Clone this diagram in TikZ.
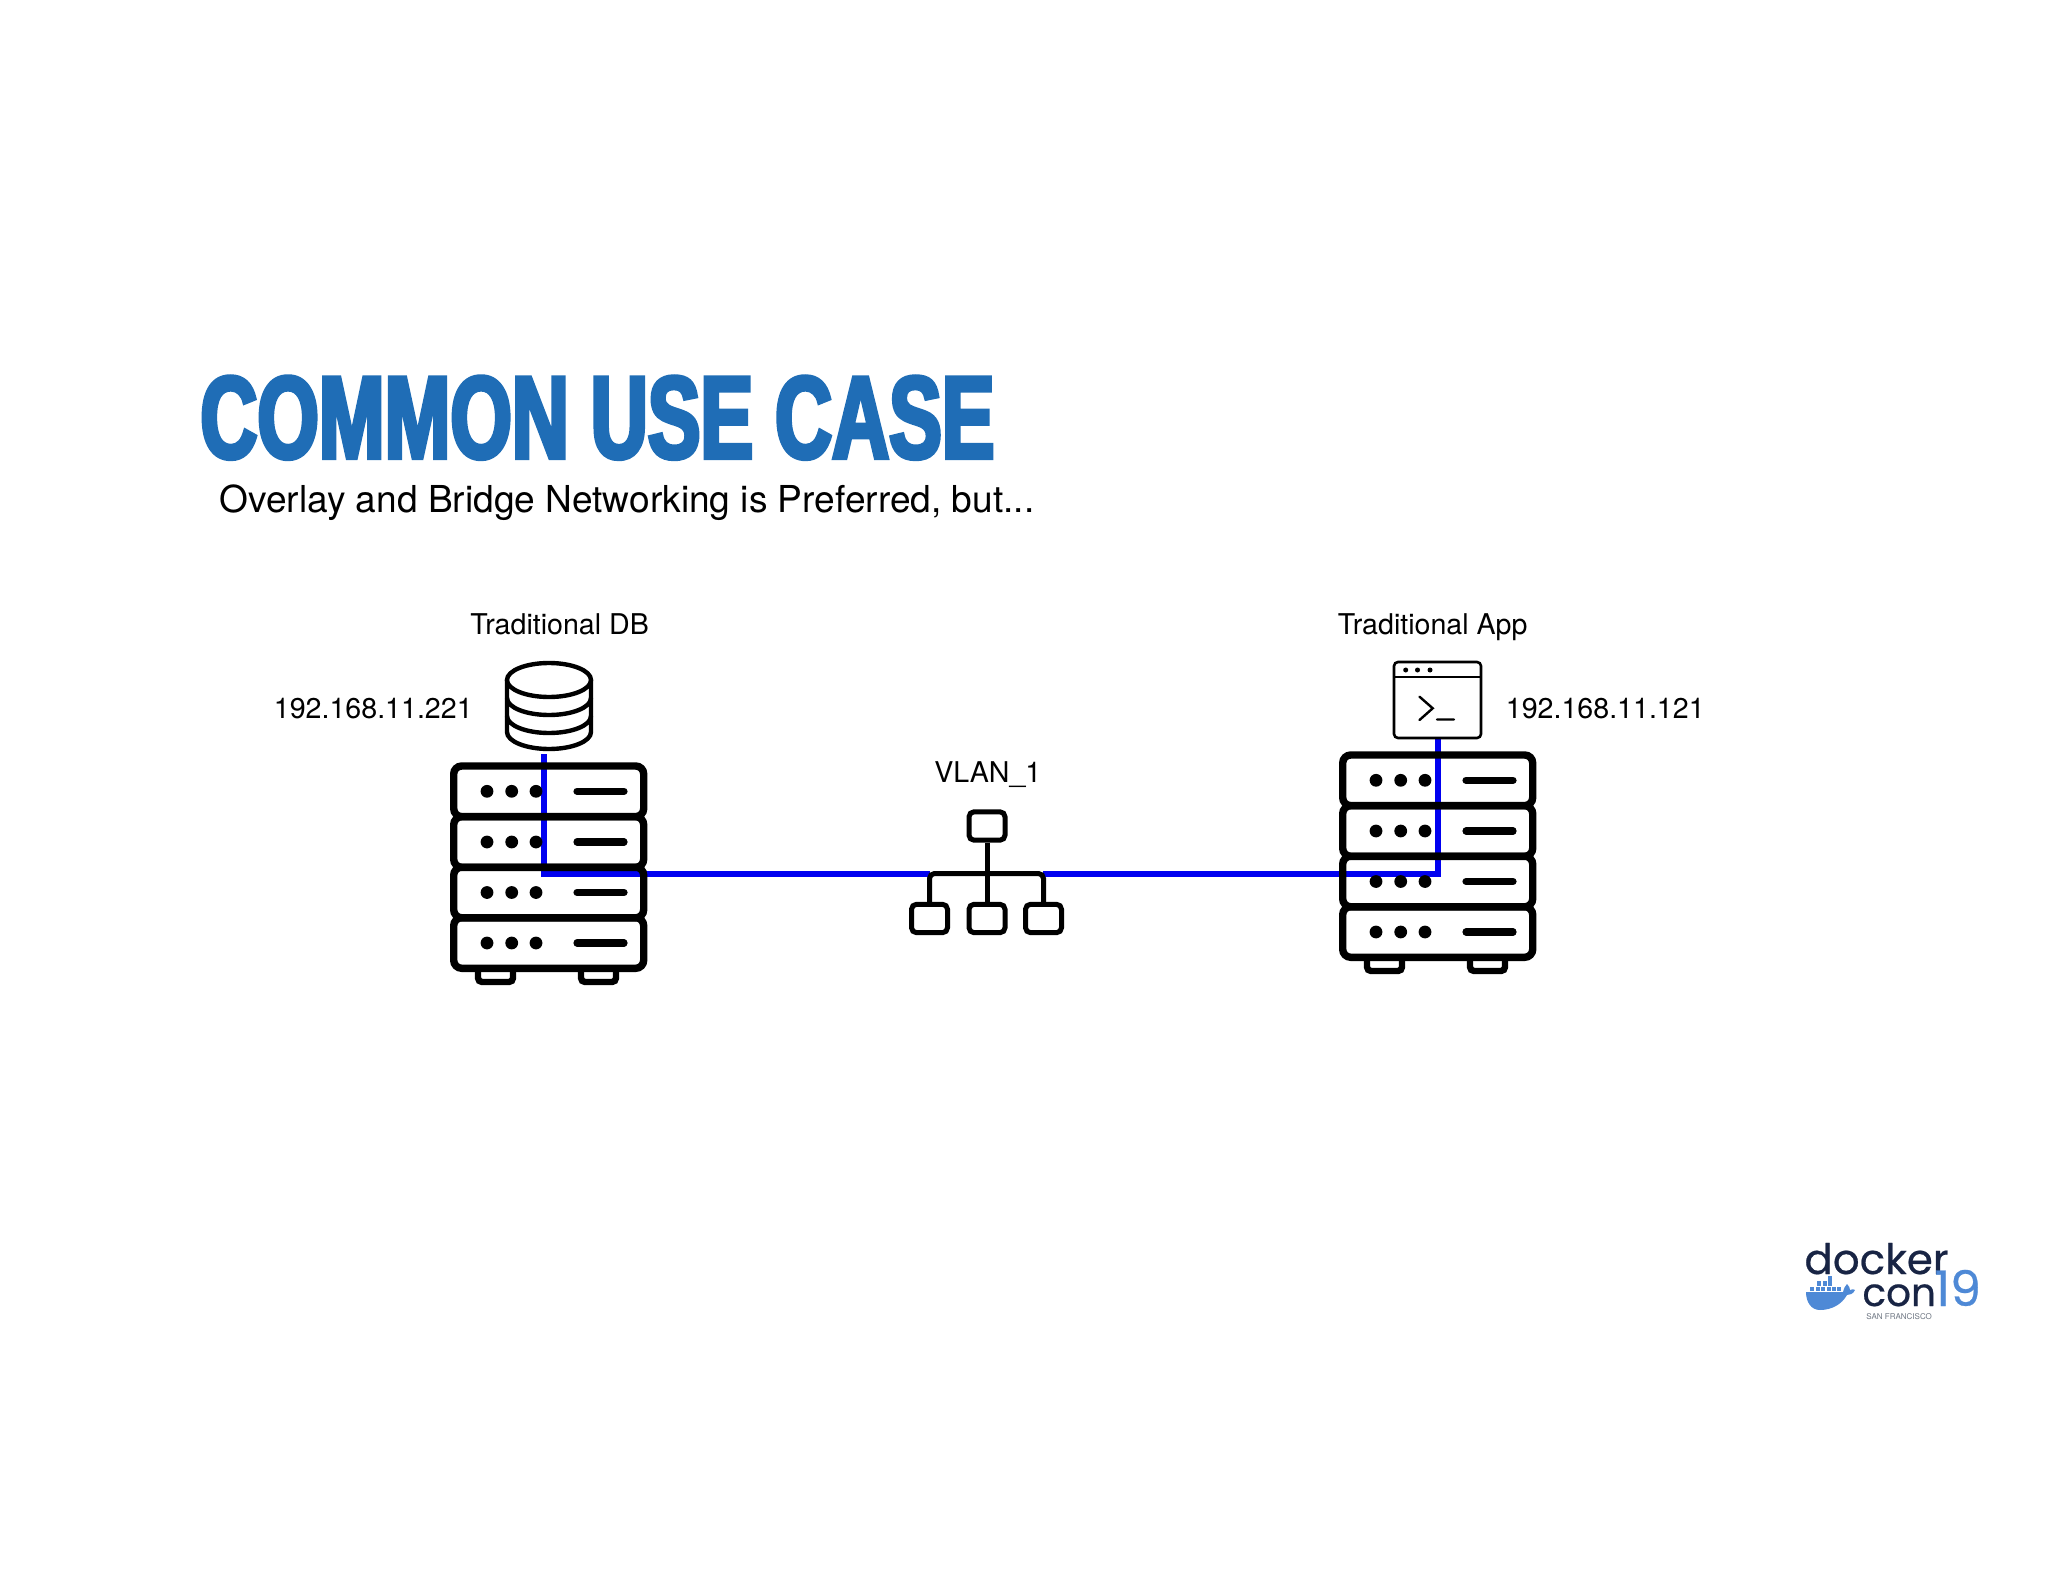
\documentclass[tikz,border=0pt]{standalone}
\usepackage{fontspec}
\setmainfont{TeX Gyre Heros}
\newfontfamily\titlefont[FakeBold=3.5,FakeStretch=0.675]{Liberation Sans Bold}
\newfontfamily\logofont[FakeBold=0.5]{Poppins}
\usetikzlibrary{positioning,calc}
\definecolor{ink}{RGB}{0,0,0}
\definecolor{vlanblue}{RGB}{0,0,240}
\definecolor{titleblue}{RGB}{31,109,182}
\definecolor{logonavy}{RGB}{24,36,68}
\definecolor{logoblue}{RGB}{78,137,214}
\definecolor{logogray}{RGB}{110,118,130}
\tikzset{
  rack/.style={draw=ink,line width=3.7pt,rounded corners=4pt,
    minimum width=95pt,minimum height=25.3pt,inner sep=0pt},
  led/.style={circle,fill=ink,minimum size=6.4pt,inner sep=0pt},
  slot/.style={draw=ink,line width=3.6pt,line cap=round},
  foot/.style={draw=ink,line width=3.2pt,rounded corners=2pt},
  port/.style={draw=ink,line width=2.5pt,rounded corners=2.5pt,fill=white,
    minimum width=18pt,minimum height=14.2pt,inner sep=0pt},
  bus/.style={draw=ink,line width=2.5pt,rounded corners=2.5pt},
  vlan/.style={draw=vlanblue,line width=3pt},
  cyl/.style={draw=ink,line width=2.2pt},
  win/.style={draw=ink,line width=1.3pt},
  lbl/.style={font=\fontsize{14.3}{14.3}\selectfont,inner sep=0pt,anchor=base west},
  logo/.style={inner sep=0pt,anchor=base west},
}
\begin{document}
\begin{tikzpicture}[x=0.5pt,y=-0.5pt]
  \useasboundingbox (0,0) rectangle (2048,1582);
  % heading
  \node[inner sep=0pt,anchor=base west,text=titleblue,font=\titlefont\fontsize{58.5}{58.5}\selectfont]
    (title) at (200,458) {COMMON USE CASE};
  \node[inner sep=0pt,anchor=base west,font=\fontsize{18.55}{18.55}\selectfont]
    (subtitle) at (219,513) {Overlay and Bridge Networking is Preferred, but...};
  % blue link behind the racks
  \coordinate (dbport) at (543.5,754);
  \coordinate (appport) at (1437.7,739);
  \coordinate (swleft) at (930,873.5);
  \coordinate (swright) at (1043,873.5);
  \draw[vlan] (dbport) |- (swleft);
  \draw[vlan] (appport) |- (swright);
  % racks
  \foreach \rk/\ox/\oy in {dbrack/0/0,apprack/889/-11}{
    \begin{scope}[shift={(\ox,\oy)}]
      \foreach \fx in {478,581}
        \draw[foot] (\fx,968) -- (\fx,982) -- ({\fx+35},982) -- ({\fx+35},968);
      \foreach \n/\ry in {1/791.3,2/842,3/892.5,4/943}{
        \node[rack] (\rk\n) at (548.7,\ry) {};
        \foreach \lx in {487,511.7,536}
          \node[led] at (\lx,\ry) {};
        \draw[slot] (577,\ry) -- (624,\ry);
      }
    \end{scope}
  }
  % database
  \draw[cyl,fill=white] (507,680) -- (507,732) arc[start angle=180,end angle=0,x radius=42,y radius=17]
    -- (591,680);
  \draw[cyl,fill=white] (549,680) ellipse[x radius=42,y radius=17];
  \foreach \ay in {698,716}
    \draw[cyl] (507,\ay) arc[start angle=180,end angle=0,x radius=42,y radius=17];
  % terminal window
  \draw[win,fill=none,rounded corners=2pt] (1394,662) rectangle (1481,738);
  \draw[win] (1394,677) -- (1481,677);
  \foreach \wx in {1405.7,1417.5,1430}
    \fill[ink] (\wx,670) circle[radius=2.5];
  \draw[win,line cap=round,line width=1.2pt] (1419.5,696.7) -- (1432.7,708.3) -- (1419.5,720) (1437,719.5) -- (1454,719.5);
  % switch
  \node[port] (swtop) at (987,826) {};
  \node[port] (swa) at (929.5,918.5) {};
  \node[port] (swb) at (987,918.5) {};
  \node[port] (swc) at (1043.5,918.5) {};
  \draw[bus] (swa) -- (swa|-swleft) -- (swc|-swleft) -- (swc);
  \draw[bus,rounded corners=0pt] (swtop) -- (swb);
  % labels
  \node[lbl] (dbname) at (470,634) {Traditional DB};
  \node[lbl] (appname) at (1337.5,634) {Traditional App};
  \node[lbl] (dbip) at (273.5,718) {192.168.11.221};
  \node[lbl] (appip) at (1505.5,718) {192.168.11.121};
  \node[lbl] (vlanname) at (934,782) {VLAN\_1};
  % conference logo
  \node[logo,text=logonavy,font=\logofont\fontsize{21}{21}\selectfont] (logodocker) at (1804,1274) {docker};
  \node[logo,text=logonavy,font=\logofont\fontsize{19.5}{19.5}\selectfont] (logocon) at (1862,1306) {con};
  \node[logo,text=logoblue,font=\logofont\fontsize{24.5}{24.5}\selectfont] (logoyear) at (1934,1306) {19};
  \node[logo,text=logogray,font=\fontsize{4}{4}\selectfont] (logocity) at (1866,1319) {SAN FRANCISCO};
  \fill[logoblue] (1806,1292) -- (1843,1292) .. controls (1844,1288) and (1845,1286) .. (1847,1284)
    .. controls (1849,1286) and (1850,1288) .. (1850,1290)
    .. controls (1852,1289) and (1854,1289) .. (1855,1290)
    .. controls (1853,1294) and (1850,1295) .. (1847,1295)
    .. controls (1842,1304) and (1832,1310) .. (1820,1310)
    .. controls (1811,1310) and (1806,1302) .. (1806,1292) -- cycle;
  \foreach \bx/\by in {1810/1291,1815.5/1291,1821/1291,1826.5/1291,1832/1291,1837/1291,1817/1285.5,1822.5/1285.5,1828/1285.5,1828/1280.5}
    \fill[logoblue] (\bx,\by) rectangle +(4.3,-4.3);
\end{tikzpicture}
\end{document}
